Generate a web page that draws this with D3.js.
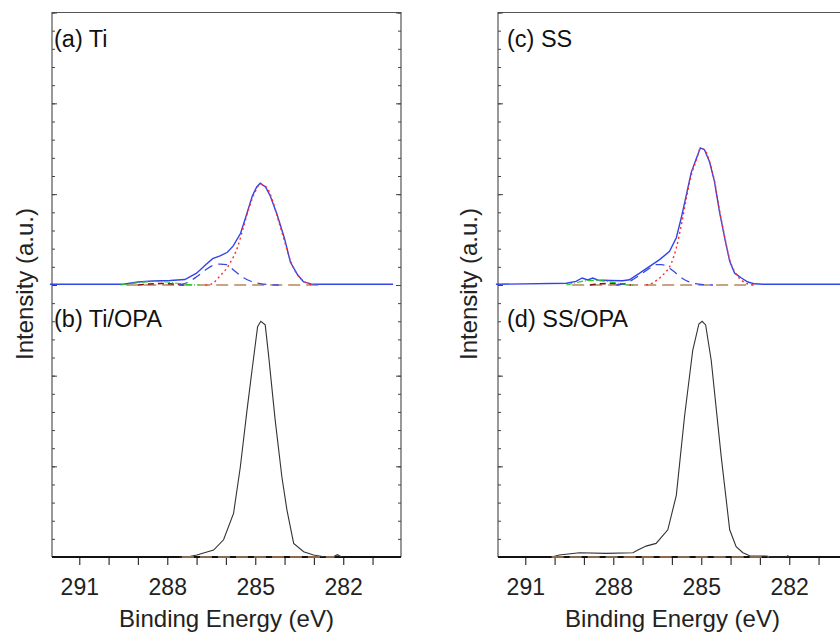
<!DOCTYPE html>
<html>
<head>
<meta charset="utf-8">
<script src="https://cdn.jsdelivr.net/npm/d3@7"></script>
<style>
  body { margin: 0; background: #fff; }
  svg { display: block; font-family: "Liberation Sans", Arial, sans-serif; }
</style>
</head>
<body>
<svg id="chart" width="840" height="634"></svg>
<script>
// C 1s spectra, [binding energy (eV), intensity (a.u.)]
const tiEnvelope = [[292, 0.8], [289.5, 0.8], [289.0, 3.3], [288.5, 4.4], [287.9, 5], [287.4, 6], [287.0, 13], [286.7, 22], [286.45, 29], [286.2, 32], [285.95, 36], [285.75, 43], [285.5, 57], [285.3, 77], [285.1, 98], [284.95, 108], [284.83, 112], [284.65, 108], [284.5, 99], [284.25, 77], [284.0, 51], [283.8, 25], [283.55, 11], [283.35, 3.3], [283.1, 1.2], [282.8, 0.8], [280.3, 0.8]]
const tiCC = [[286.7, 0], [286.5, 1], [286.2, 10], [285.9, 22], [285.6, 42], [285.4, 64], [285.2, 86], [285.0, 103], [284.83, 111], [284.6, 107], [284.4, 92], [284.2, 70], [284.0, 48], [283.8, 27], [283.6, 13], [283.4, 5.5], [283.2, 1.6], [283.0, 0]]
const tiCO = [[287.6, 0], [287.3, 2.8], [287.0, 9], [286.7, 16.5], [286.45, 21.5], [286.2, 23], [285.97, 22.5], [285.74, 16.5], [285.45, 9], [285.17, 4.4], [284.83, 1.6], [284.5, 0.3], [284.2, 0]]
const tiOCO = [[289.6, 0], [289.2, 1.6], [288.8, 3.3], [288.4, 3.9], [288.0, 3.3], [287.6, 1.6], [287.2, 0.3], [286.9, 0]]
const tiCarb = [[289.0, 0], [288.6, 1.1], [288.2, 1.6], [287.8, 1.1], [287.4, 0]]
const tiBaseline = [[289.4, 0], [282.7, 0]]

const ssEnvelope = [[292, 0.8], [289.6, 1.9], [289.27, 4], [289.06, 7.7], [288.87, 5.5], [288.7, 7.7], [288.53, 5.5], [288.1, 5], [287.68, 4.7], [287.45, 5.8], [287.1, 13], [286.76, 20.5], [286.42, 28], [286.08, 37], [285.85, 52], [285.68, 74], [285.51, 99], [285.34, 124], [285.17, 139], [285.03, 151], [284.89, 149], [284.72, 136], [284.55, 114], [284.38, 81], [284.2, 52], [284.03, 26], [283.86, 13], [283.63, 7.7], [283.41, 3.3], [283.18, 1.3], [282.9, 0.8], [279.5, 0.8]]
const ssCC = [[286.88, 0], [286.59, 3.6], [286.31, 11], [286.02, 24], [285.85, 41], [285.68, 66], [285.51, 95], [285.34, 121], [285.17, 137], [285.03, 150], [284.89, 149], [284.72, 136], [284.55, 115], [284.38, 83], [284.2, 53], [284.03, 28], [283.86, 14.6], [283.63, 5.5], [283.41, 1.1], [283.2, 0]]
const ssCO = [[287.9, 0], [287.6, 1.6], [287.3, 6.6], [287.0, 13], [286.75, 18.7], [286.55, 22.5], [286.35, 22.5], [286.15, 20], [285.95, 15.4], [285.74, 9.6], [285.5, 4.7], [285.2, 1.6], [284.9, 0.4], [284.6, 0]]
const ssOCO = [[289.6, 0], [289.3, 2.2], [289.0, 4.4], [288.6, 5], [288.2, 3.9], [287.9, 2.2], [287.6, 0.6], [287.3, 0]]
const ssCarb = [[288.8, 0], [288.4, 1.3], [288.0, 1.6], [287.7, 1.1], [287.4, 0]]
const ssBaseline = [[289.4, 0], [283.2, 0]]

const tiOpa = [[287.6, 0], [287.28, 0.3], [286.99, 2.2], [286.42, 7.7], [286.08, 19], [285.74, 48], [285.51, 99], [285.28, 162], [285.11, 206], [284.92, 254], [284.81, 260], [284.66, 256], [284.55, 224], [284.32, 151], [284.09, 88], [283.92, 52], [283.69, 15], [283.35, 5.8], [283.01, 2.2], [282.67, 0.3], [282.35, 0], [282.2, 2.6], [282.05, 0]]
const tiOpaBaseline = [[287.5, 0], [282.3, 0]]

const ssOpa = [[290.1, 0], [289.84, 2.2], [289.15, 4.7], [288.24, 4], [287.33, 4.7], [287.16, 7.7], [286.88, 12], [286.54, 15], [286.14, 30], [285.85, 68], [285.57, 155], [285.29, 228], [285.08, 257], [284.97, 260], [284.85, 256], [284.66, 217], [284.32, 111], [284.03, 30], [283.81, 11.3], [283.58, 4.7], [283.35, 1.4], [282.78, 1.1], [282.6, 0], [282.1, 0], [282.05, 1.5], [282.0, 0]]
const ssOpaBaseline = [[290.1, 0], [282.7, 0]]

const energyTicks = [291, 290, 289, 288, 287, 286, 285, 284, 283, 282, 281]
const energyLabels = [291, 288, 285, 282]
const intensityMinor = d3.range(0, 301, 20)
const intensityMajor = [0, 100, 200, 300]

const frameTop = 12.5
const frameMid = 285
const frameBottom = 557

const svg = d3.select('#chart')

function drawPanel (left, right, spec) {
  const g = svg.append('g')
  const x = d3.scaleLinear().domain([291.93, 280.03]).range([left, right])
  const yTop = d3.scaleLinear().domain([0, 300]).range([frameMid, frameTop])
  const yBot = d3.scaleLinear().domain([0, 300]).range([frameBottom, frameMid])

  // frame
  g.append('path')
    .attr('d', `M${left},${frameBottom}V${frameTop}H${right}V${frameBottom}`)
    .attr('fill', 'none')
    .attr('stroke', '#555')
    .attr('stroke-width', 1.2)

  // inward y ticks on both sides
  ;[yTop, yBot].forEach(y => {
    ;[[intensityMinor, 3], [intensityMajor, 5]].forEach(([vals, size]) => {
      g.append('g').attr('transform', `translate(${left},0)`)
        .call(d3.axisRight(y).tickValues(vals).tickSize(size).tickFormat(''))
        .call(a => a.select('.domain').remove())
      g.append('g').attr('transform', `translate(${right},0)`)
        .call(d3.axisLeft(y).tickValues(vals).tickSize(size).tickFormat(''))
        .call(a => a.select('.domain').remove())
    })
  })
  g.selectAll('.tick line').attr('stroke', '#444')

  // x axis
  const xa = g.append('g').attr('transform', `translate(0,${frameBottom})`)
    .call(d3.axisBottom(x).tickValues(energyTicks).tickSize(8).tickPadding(14)
      .tickFormat(d => energyLabels.includes(d) ? d : ''))
  xa.select('.domain').remove()
  xa.selectAll('.tick line').attr('stroke', '#333').attr('stroke-width', 1.2)
  xa.selectAll('text').attr('font-size', 23).attr('fill', '#222')
    .attr('font-family', '"Liberation Sans", Arial, sans-serif')
  g.append('line')
    .attr('x1', left).attr('x2', right)
    .attr('y1', frameBottom).attr('y2', frameBottom)
    .attr('stroke', '#111').attr('stroke-width', 2)

  // measured curves straight between points, fitted peaks smooth
  const rawTop = d3.line().x(d => x(d[0])).y(d => yTop(d[1]))
  const fitTop = d3.line().x(d => x(d[0])).y(d => yTop(d[1])).curve(d3.curveMonotoneX)
  const rawBot = d3.line().x(d => x(d[0])).y(d => yBot(d[1]))

  const draw = (line, data, color, width, dash) => g.append('path')
    .datum(data)
    .attr('d', line)
    .attr('fill', 'none')
    .attr('stroke', color)
    .attr('stroke-width', width)
    .attr('stroke-dasharray', dash)

  // top panel: fitted components
  draw(rawTop, spec.baseline, '#b8875a', 1.6, '12,6')
  draw(rawTop, spec.envelope, '#3344e6', 1.4, null)
  draw(fitTop, spec.carb, '#8b1010', 1.6, '6,4')
  draw(fitTop, spec.oco, '#22cc22', 1.2, '6,2,1,2')
  draw(fitTop, spec.co, '#3a48e0', 1.3, '9,6')
  draw(fitTop, spec.cc, '#ff2a2a', 1.4, '2,3')

  // bottom panel: OPA modified
  draw(rawBot, spec.opa, '#333', 1.1, null)
  draw(rawBot, spec.opaBaseline, '#b8875a', 1.6, '12,6')

  g.append('text').attr('x', spec.labelX).attr('y', 47)
    .attr('font-size', 23.5).attr('fill', '#111').text(spec.topLabel)
  g.append('text').attr('x', spec.labelX).attr('y', 327)
    .attr('font-size', 23.5).attr('fill', '#111').text(spec.bottomLabel)

  g.append('text')
    .attr('x', (left + right) / 2).attr('y', 627)
    .attr('text-anchor', 'middle').attr('font-size', 24).attr('fill', '#222')
    .text('Binding Energy (eV)')

  g.append('text')
    .attr('transform', `translate(${spec.yTitleX},284) rotate(-90)`)
    .attr('text-anchor', 'middle').attr('font-size', 24).attr('fill', '#222')
    .text('Intensity (a.u.)')
}

drawPanel(52, 401, {
  envelope: tiEnvelope, cc: tiCC, co: tiCO, oco: tiOCO, carb: tiCarb, baseline: tiBaseline,
  opa: tiOpa, opaBaseline: tiOpaBaseline,
  topLabel: '(a) Ti', bottomLabel: '(b) Ti/OPA', labelX: 54, yTitleX: 33
})

drawPanel(498, 847, {
  envelope: ssEnvelope, cc: ssCC, co: ssCO, oco: ssOCO, carb: ssCarb, baseline: ssBaseline,
  opa: ssOpa, opaBaseline: ssOpaBaseline,
  topLabel: '(c) SS', bottomLabel: '(d) SS/OPA', labelX: 507, yTitleX: 477
})
</script>
</body>
</html>
